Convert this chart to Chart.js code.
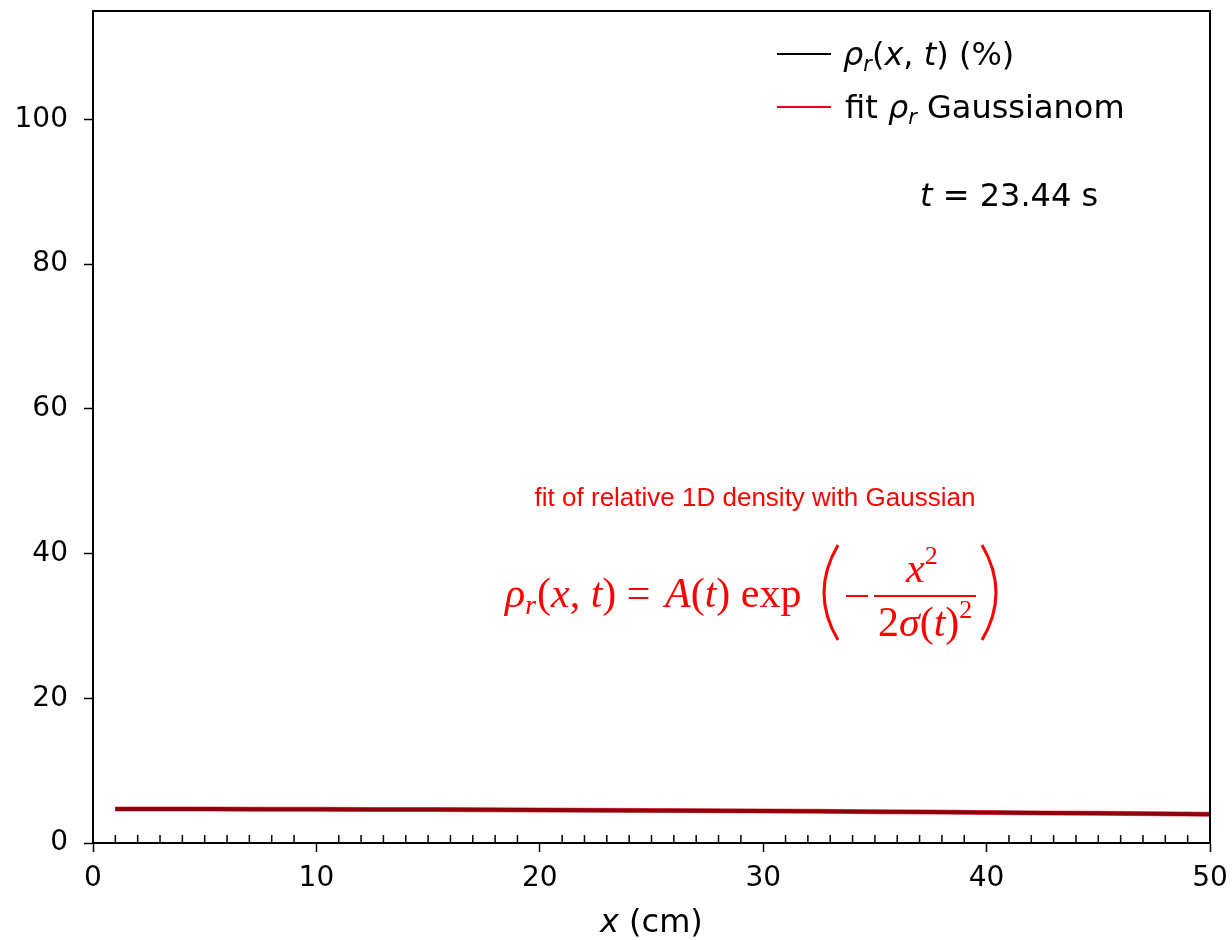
<!DOCTYPE html>
<html>
<head>
<meta charset="utf-8">
<script src="https://cdn.jsdelivr.net/npm/chart.js@4.4.1/dist/chart.umd.min.js"></script>
<style>
  html, body { margin: 0; padding: 0; background: #fff; }
  #wrap { width: 1232px; height: 940px; }
</style>
</head>
<body>
<div id="wrap"><canvas id="chart" width="1232" height="940"></canvas></div>
<script>
// x positions (cm) and the values
const xPos = [1, 5, 10, 15, 20, 25, 30, 35, 40, 45, 50];
const rhoValues = [4.70, 4.69, 4.66, 4.62, 4.57, 4.50, 4.42, 4.33, 4.22, 4.10, 3.97];
const fitValues = [4.70, 4.69, 4.66, 4.62, 4.57, 4.50, 4.42, 4.33, 4.22, 4.10, 3.97];
const yTicks = [0, 20, 40, 60, 80, 100];
const xTicks = [0, 10, 20, 30, 40, 50];

const tickFont = { family: "DejaVu Sans", size: 28 };

const toPoints = (vals) => xPos.map((x, i) => ({ x: x, y: vals[i] }));

// draw a row of text pieces, each with its own font, from left to right
const drawPieces = (ctx, x, y, pieces) => {
  pieces.forEach(p => {
    ctx.font = p.font;
    const dy = p.dy || 0;
    ctx.fillText(p.t, x, y + dy);
    x += ctx.measureText(p.t).width + (p.gap || 0);
  });
  return x;
};

const extras = {
  id: "extras",
  afterDraw(chart) {
    const ctx = chart.ctx;
    const a = chart.chartArea;
    const xs = chart.scales.x;
    ctx.save();

    // frame
    ctx.strokeStyle = "#000";
    ctx.lineWidth = 2;
    ctx.strokeRect(a.left, a.top, a.right - a.left, a.bottom - a.top);

    // minor ticks on the x axis, pointing inwards
    ctx.lineWidth = 1.5;
    ctx.beginPath();
    for (let v = 1; v < 50; v++) {
      if (v % 10 === 0) continue;
      const px = xs.getPixelForValue(v);
      ctx.moveTo(px, a.bottom);
      ctx.lineTo(px, a.bottom - 8);
    }
    ctx.stroke();

    // legend
    ctx.textBaseline = "alphabetic";
    ctx.lineWidth = 2;
    ctx.strokeStyle = "#000";
    ctx.beginPath(); ctx.moveTo(777, 54); ctx.lineTo(831, 54); ctx.stroke();
    ctx.strokeStyle = "#e8001c";
    ctx.beginPath(); ctx.moveTo(777, 107); ctx.lineTo(831, 107); ctx.stroke();
    ctx.fillStyle = "#000";
    const f = "32px 'DejaVu Sans'";
    const fi = "oblique 32px 'DejaVu Sans'";
    const fs = "oblique 21px 'DejaVu Sans'";
    drawPieces(ctx, 843, 65, [
      { t: "\u03c1", font: fi },
      { t: "r", font: fs, dy: 6 },
      { t: "(", font: f },
      { t: "x", font: fi },
      { t: ", ", font: f },
      { t: "t", font: fi },
      { t: ") (%)", font: f }
    ]);
    drawPieces(ctx, 845, 118, [
      { t: "fit ", font: f },
      { t: "\u03c1", font: fi },
      { t: "r", font: fs, dy: 6 },
      { t: " Gaussianom", font: f }
    ]);

    // time stamp
    drawPieces(ctx, 920, 206, [
      { t: "t", font: fi },
      { t: " = 23.44 s", font: f }
    ]);

    // x axis title
    drawPieces(ctx, 600, 932, [
      { t: "x", font: fi },
      { t: " (cm)", font: f }
    ]);

    // red annotation
    ctx.fillStyle = "#ff0000";
    ctx.strokeStyle = "#ff0000";
    ctx.font = "26px 'Liberation Sans'";
    ctx.textAlign = "center";
    ctx.fillText("fit of relative 1D density with Gaussian", 755, 506);
    ctx.textAlign = "left";

    const si = "italic 42px 'Liberation Serif'";
    const sr = "42px 'Liberation Serif'";
    const ss = "italic 28px 'Liberation Serif'";
    const s2 = "26px 'Liberation Serif'";
    drawPieces(ctx, 505, 607, [
      { t: "\u03c1", font: si },
      { t: "r", font: ss, dy: 7, gap: 1 },
      { t: "(", font: sr },
      { t: "x", font: si },
      { t: ", ", font: sr },
      { t: "t", font: si },
      { t: ") = ", font: sr, gap: 4 },
      { t: "A", font: si },
      { t: "(", font: sr },
      { t: "t", font: si },
      { t: ") exp", font: sr }
    ]);
    // big parentheses
    ctx.lineWidth = 3;
    ctx.beginPath();
    ctx.moveTo(838, 545);
    ctx.quadraticCurveTo(810, 593, 838, 640);
    ctx.stroke();
    ctx.beginPath();
    ctx.moveTo(982, 545);
    ctx.quadraticCurveTo(1010, 593, 982, 640);
    ctx.stroke();
    // minus and fraction bar
    ctx.lineWidth = 2;
    ctx.beginPath();
    ctx.moveTo(846, 596); ctx.lineTo(868, 596);
    ctx.moveTo(874, 596); ctx.lineTo(976, 596);
    ctx.stroke();
    drawPieces(ctx, 906, 582, [
      { t: "x", font: si },
      { t: "2", font: s2, dy: -18 }
    ]);
    drawPieces(ctx, 878, 636, [
      { t: "2", font: sr },
      { t: "\u03c3", font: si },
      { t: "(", font: sr },
      { t: "t", font: si },
      { t: ")", font: sr },
      { t: "2", font: s2, dy: -18 }
    ]);

    ctx.restore();
  }
};

new Chart("chart", {
  type: "line",
  data: {
    datasets: [{
      label: "rho_r(x,t) (%)",
      data: toPoints(rhoValues),
      borderColor: "#000000",
      borderWidth: 4,
      pointRadius: 0,
      tension: 0.3,
      order: 2
    }, {
      label: "fit rho_r Gaussianom",
      data: toPoints(fitValues),
      borderColor: "rgba(235,0,20,0.6)",
      borderWidth: 5,
      pointRadius: 0,
      tension: 0.3,
      order: 1
    }]
  },
  options: {
    responsive: false,
    animation: false,
    layout: { padding: { left: 0, right: 22, top: 11, bottom: 0 } },
    plugins: { legend: { display: false }, tooltip: { enabled: false } },
    scales: {
      x: {
        type: "linear",
        min: 0,
        max: 50,
        afterBuildTicks: (s) => { s.ticks = xTicks.map(v => ({ value: v })); },
        afterFit: (s) => { s.height = 97; s.paddingLeft = 0; s.paddingRight = 0; },
        ticks: { color: "#000", font: tickFont, padding: 10, maxRotation: 0 },
        grid: { drawOnChartArea: false, drawTicks: true, tickLength: 9, color: "#000", tickWidth: 1.5 },
        border: { display: true, color: "#000", width: 2 }
      },
      y: {
        min: 0,
        max: 115,
        afterBuildTicks: (s) => { s.ticks = yTicks.map(v => ({ value: v })); },
        afterFit: (s) => { s.width = 93; s.paddingTop = 0; s.paddingBottom = 0; },
        ticks: { color: "#000", font: tickFont, padding: 16 },
        grid: { drawOnChartArea: false, drawTicks: true, tickLength: 9, color: "#000", tickWidth: 1.5 },
        border: { display: true, color: "#000", width: 2 }
      }
    }
  },
  plugins: [extras]
});
</script>
</body>
</html>
